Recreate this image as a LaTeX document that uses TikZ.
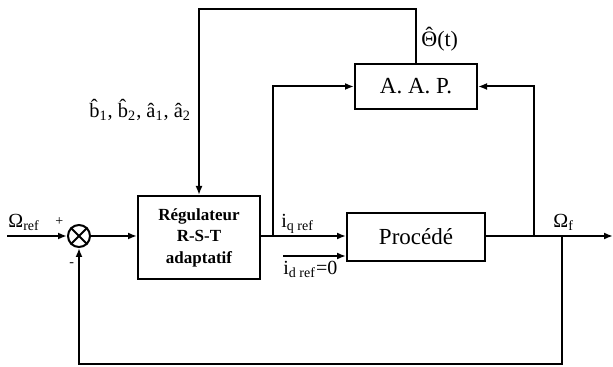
\documentclass[tikz,border=0pt]{standalone}
\usepackage{fontspec}
\setmainfont{Liberation Serif}
\usetikzlibrary{arrows.meta, positioning, calc}

\begin{document}
\begin{tikzpicture}[
  x=0.5pt, y=-0.5pt,
  font=\fontsize{10}{12}\selectfont,
  blk/.style={draw, line width=1pt, align=center, inner sep=0pt},
  sumnode/.style={draw, circle, line width=1pt, minimum size=11pt, inner sep=0pt},
  lbl/.style={inner sep=0pt, anchor=base west},
  arr/.style={-{Latex[length=4.5pt,width=3.5pt]}, line width=1pt},
]
\useasboundingbox (0,0) rectangle (613,367);

% ---- blocks ----
\node[sumnode] (sum) at (79,236) {};
\draw[line width=0.9pt] (sum.north east) -- (sum.south west)
                        (sum.north west) -- (sum.south east);
\node[blk, minimum width=61pt, minimum height=41.5pt,
      font=\fontsize{8.5}{10.75}\selectfont\bfseries] (reg) at (199,237.5)
      {Régulateur\\R-S-T\\adaptatif};
\node[blk, minimum width=69pt, minimum height=24pt,
      font=\fontsize{11.5}{13}\selectfont] (proc) at (416,237) {Procédé};
\node[blk, minimum width=61pt, minimum height=22.5pt,
      font=\fontsize{11.5}{13}\selectfont] (aap) at (416,86.5) {A. A. P.};

% ---- branch points ----
\coordinate (in) at (7,236);
\coordinate (tq) at (273,236);
\coordinate (dstart) at (283,256);
\coordinate (tap) at (534,236);
\coordinate (fb) at (562,236);
\coordinate (out) at (613,236);
\coordinate (top) at (0,9);
\coordinate (bot) at (0,364);

% ---- labels ----
\node[lbl] (wref) at (8,228) {Ω\textsubscript{ref}};
\node[lbl, font=\fontsize{7}{8}\selectfont] (plus) at (55,226) {+};
\node[lbl, font=\fontsize{7}{8}\selectfont] (minus) at (69,266) {-};
\node[lbl] (iq) at (281,228) {i\textsubscript{q ref}};
\node[lbl] (id) at (283,275) {i\textsubscript{d ref}=0};
\node[lbl] (wf) at (553,228) {Ω\textsubscript{f}};
\node[lbl, font=\fontsize{11}{13}\selectfont] (theta) at (421,47) {\accent"02C6 Θ(t)};
\node[lbl, font=\fontsize{10.2}{12}\selectfont] (par) at (89,118)
      {\^b\textsubscript{1}, \^b\textsubscript{2}, \^a\textsubscript{1}, \^a\textsubscript{2}};

% ---- arrows ----
\draw[arr] (in) -- (sum);
\draw[arr] (sum) -- (sum -| reg.west);
\draw[arr] (reg.east |- tq) -- (tq -| proc.west);
\draw[arr] (dstart) -- (dstart -| proc.west);
\draw[arr] (tq) |- (aap.west);
\draw[arr] (proc.east |- fb) -- (out);
\draw[arr] (tap) |- (aap.east);
% A.A.P. -> regulator parameters
\draw[arr] (aap.north) |- (reg.north |- top) -- (reg.north);
% feedback
\draw[arr] (fb) -- (fb |- bot) -| (sum.south);
\end{tikzpicture}
\end{document}
